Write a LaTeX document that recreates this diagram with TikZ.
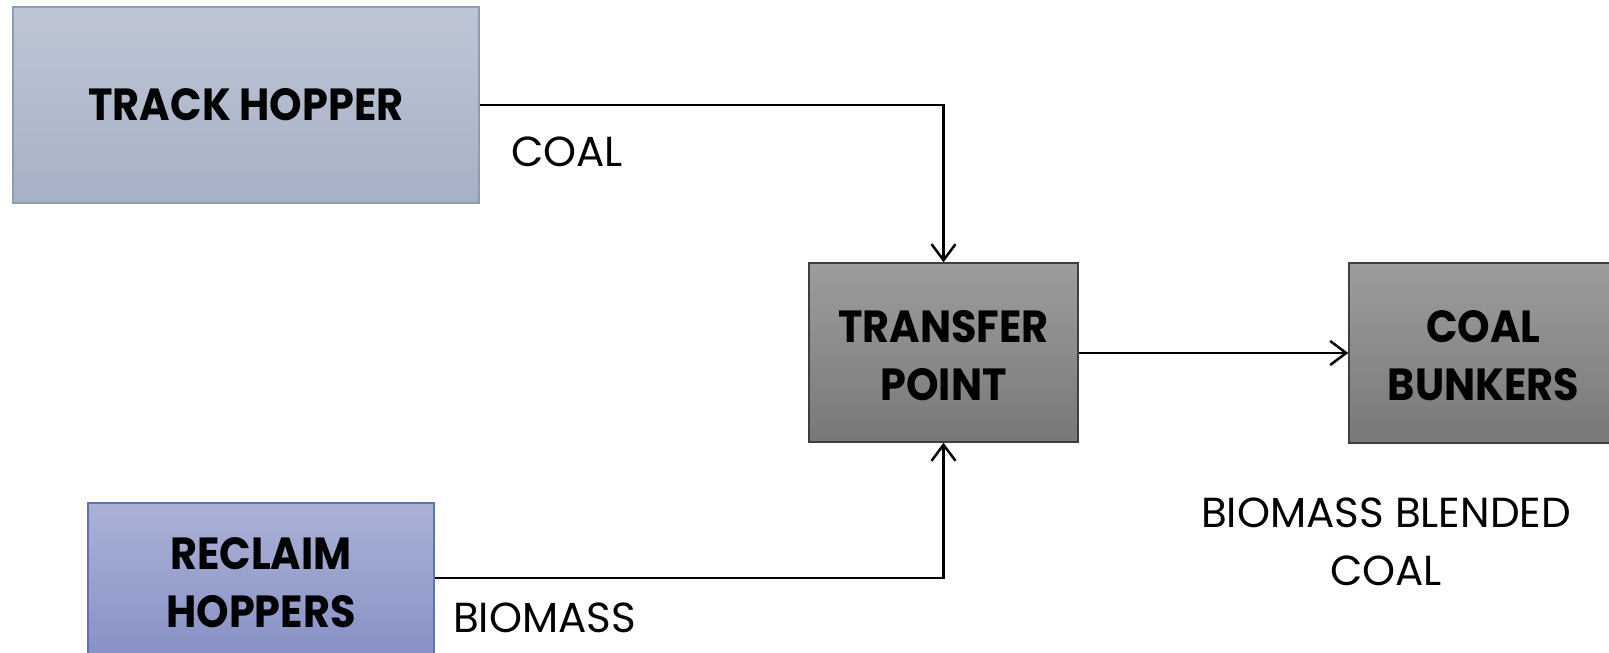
\documentclass[tikz,border=0pt]{standalone}
\usepackage{fontspec}
\setmainfont{Poppins}[BoldFeatures={FakeStretch=0.92}]
\usetikzlibrary{arrows.meta}
\definecolor{thtop}{HTML}{BEC6D5}
\definecolor{thbot}{HTML}{A6B1C5}
\definecolor{thbord}{HTML}{8C9CB6}
\definecolor{rhtop}{HTML}{AAB2D7}
\definecolor{rhbot}{HTML}{8690C4}
\definecolor{rhbord}{HTML}{5F72B8}
\definecolor{gtop}{HTML}{9D9D9D}
\definecolor{gbot}{HTML}{787878}
\definecolor{gbord}{HTML}{3F3F3F}
\tikzset{
  boxfont/.style={font=\fontsize{45}{58}\selectfont\bfseries, align=center, inner sep=0pt},
  box/.style={rectangle, line width=1.5pt, boxfont},
  trackbox/.style={box, draw=thbord, top color=thtop, bottom color=thbot},
  reclaimbox/.style={box, draw=rhbord, top color=rhtop, bottom color=rhbot},
  greybox/.style={box, draw=gbord, top color=gtop, bottom color=gbot},
  boxtext/.style={label={[boxfont, yshift=-3pt]center:#1}},
  flow/.style={line width=2.5pt, -{Straight Barb[length=16pt,width=24pt,line width=2.5pt]}},
  lbl/.style={font=\fontsize{42}{58}\selectfont, inner sep=0pt, align=center}
}
\begin{document}
\begin{tikzpicture}[x=1pt,y=-1pt]
\useasboundingbox (0,0) rectangle (1609,653);
\node[trackbox, minimum width=466pt, minimum height=196pt] (track) at (246,105) {TRACK HOPPER};
\node[reclaimbox, minimum width=346pt, minimum height=160pt] (reclaim) at (261,583) {RECLAIM\\HOPPERS};
\node[greybox, minimum width=269pt, minimum height=179pt, boxtext={TRANSFER\\POINT}] (transfer) at (943.5,352.5) {};
\node[greybox, minimum width=269pt, minimum height=180pt, boxtext={COAL\\BUNKERS}] (bunkers) at (1483.5,353) {};
\draw[flow] (track.east) -| (transfer.north);
\draw[flow] (reclaim.east |- 0,578) -| (transfer.south);
\draw[flow] (transfer.east |- 0,353) -- (bunkers.west |- 0,353);
\node[lbl, anchor=west] (coal) at (511,152) {COAL};
\node[lbl, anchor=west] (biomass) at (453,618) {BIOMASS};
\node[lbl] (blend) at (1386,542) {BIOMASS BLENDED\\COAL};
\end{tikzpicture}
\end{document}
